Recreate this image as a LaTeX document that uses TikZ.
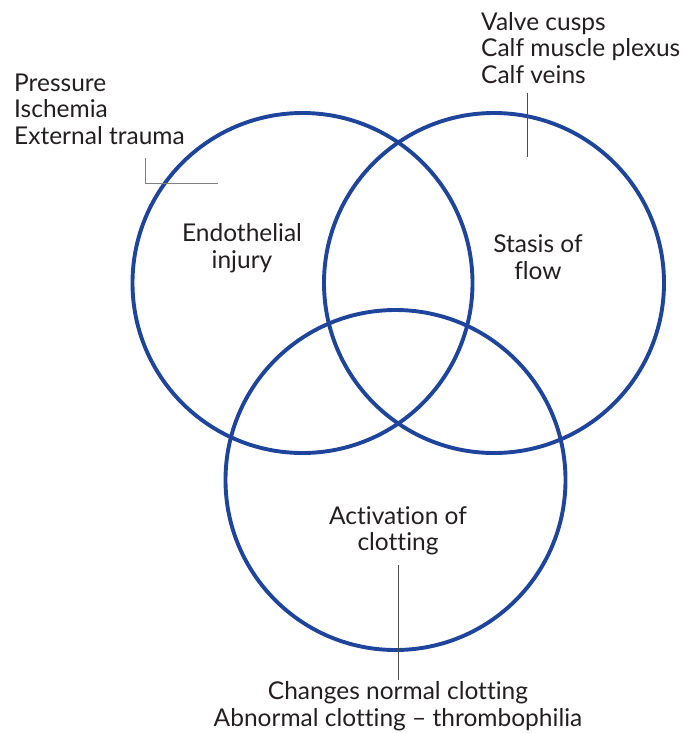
\documentclass[tikz,border=0pt]{standalone}
\usepackage{fontspec}
\setmainfont{Lato}[Ligatures=NoCommon]
\definecolor{circblue}{HTML}{1F449C}
\definecolor{txt}{HTML}{231F20}
\begin{document}
\begin{tikzpicture}[x=1pt,y=-1pt,
  venn/.style={draw=circblue,line width=3.9pt},
  lbl/.style={inner sep=0pt,text=txt,font=\fontsize{24.5}{26.5}\selectfont},
  leader/.style={draw=txt!80,line width=0.9pt}]
\useasboundingbox (0,0) rectangle (683,733);
\node[venn,circle,minimum size=340pt,inner sep=0pt] (L) at (302.5,283) {};
\node[venn,circle,minimum size=340pt,inner sep=0pt] (R) at (494,283) {};
\node[venn,circle,minimum size=340pt,inner sep=0pt] (B) at (395.5,480) {};
\node[lbl,align=left,anchor=west] (lt) at (14,109) {Pressure\\Ischemia\\External trauma};
\node[lbl,align=left,anchor=west] (rt) at (481,48) {Valve cusps\\Calf muscle plexus\\Calf veins};
\node[lbl,align=center] (en) at (242,248) {Endothelial\\injury};
\node[lbl,align=center] (st) at (538,257) {Stasis of\\flow};
\node[lbl,align=center] (ac) at (398,531) {Activation of\\clotting};
\node[lbl,align=center] (bt) at (398,706) {Changes normal clotting\\Abnormal clotting -- thrombophilia};
\coordinate (l1) at (145,158);
\coordinate (l2) at (145,183);
\coordinate (l3) at (218,183);
\draw[leader,draw=gray] (l1) -- (l2) -- (l3);
\coordinate (r1) at (527.7,93);
\coordinate (r2) at (527.7,157);
\draw[leader] (r1) -- (r2);
\coordinate (b1) at (398,565);
\coordinate (b2) at (398,680);
\draw[leader] (b1) -- (b2);
\end{tikzpicture}
\end{document}
